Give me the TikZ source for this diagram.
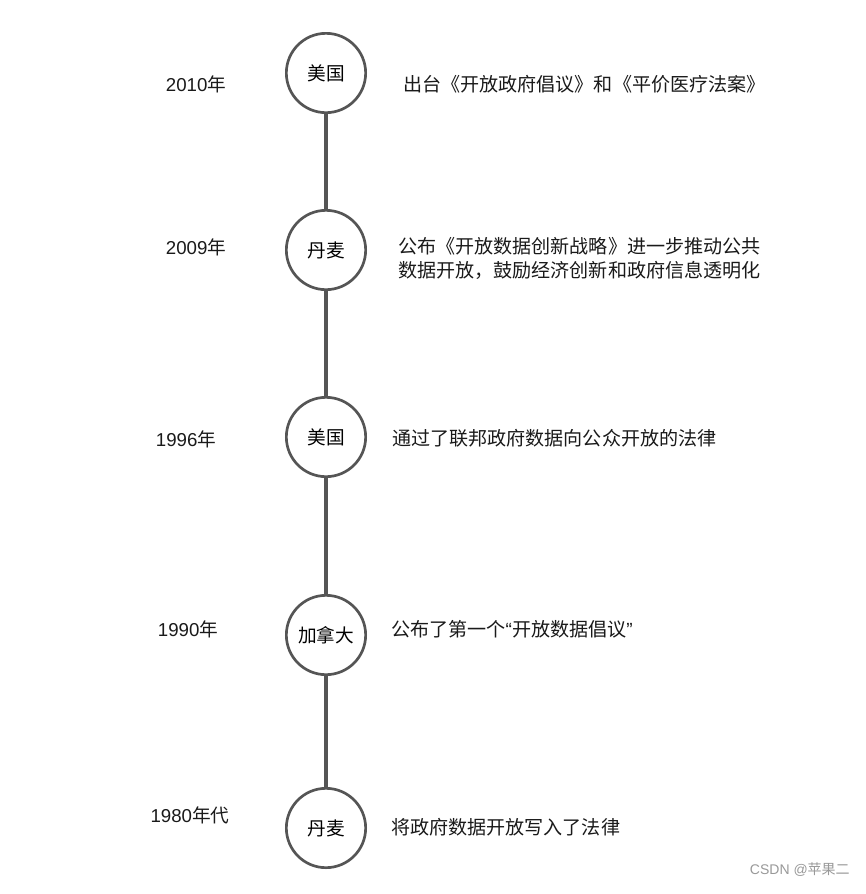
\documentclass[tikz,border=0pt]{standalone}
\usepackage{fontspec}
\setmainfont{Liberation Sans}
\newfontfamily\cjk{Noto Sans CJK SC}
\definecolor{linegray}{HTML}{555555}
\definecolor{txt}{HTML}{1A1A1A}
\begin{document}
\begin{tikzpicture}[x=0.75pt,y=-0.75pt,
  yearnode/.style={anchor=center,text=txt,font=\fontsize{14}{16}\selectfont,inner sep=0pt},
  eventnode/.style={circle,draw=linegray,line width=2pt,fill=white,minimum size=59.5pt,inner sep=0pt,font=\cjk\fontsize{14}{16}\selectfont,text=black},
  desc/.style={anchor=west,text=txt,font=\cjk\fontsize{14.3}{18}\selectfont,inner sep=0pt,align=left},
  conn/.style={draw=linegray,line width=3pt}]
\useasboundingbox (0,0) rectangle (866,894);
\fill[white] (0,0) rectangle (866,894);
% circles
\node[eventnode] (c1) at (326,73) {美国};
\node[eventnode] (c2) at (326,250) {丹麦};
\node[eventnode] (c3) at (326,437) {美国};
\node[eventnode] (c4) at (326,635) {加拿大};
\node[eventnode] (c5) at (326,828) {丹麦};
% connectors
\draw[conn] (c1) -- (c2);
\draw[conn] (c2) -- (c3);
\draw[conn] (c3) -- (c4);
\draw[conn] (c4) -- (c5);
% years
\node[yearnode] (y1) at (196,84) {2010{\cjk 年}};
\node[yearnode] (y2) at (196,247) {2009{\cjk 年}};
\node[yearnode] (y3) at (186,439) {1996{\cjk 年}};
\node[yearnode] (y4) at (188,629) {1990{\cjk 年}};
\node[yearnode] (y5) at (190,815) {1980{\cjk 年代}};
% descriptions
\node[desc] (d1) at (403,84) {出台《开放政府倡议》和《平价医疗法案》};
\node[desc] (d2) at (398,258) {公布《开放数据创新战略》进一步推动公共\\数据开放，鼓励经济创新和政府信息透明化};
\node[desc] (d3) at (392,438) {通过了联邦政府数据向公众开放的法律};
\node[desc] (d4) at (391,629) {公布了第一个{\rmfamily “}开放数据倡议{\rmfamily ”}};
\node[desc] (d5) at (391,827) {将政府数据开放写入了法律};
% watermark
\node[anchor=east,text=gray!80,font=\fontsize{10.5}{12}\selectfont,inner sep=0pt] (wm) at (850,870) {CSDN @{\cjk 苹果二}};
\end{tikzpicture}
\end{document}
